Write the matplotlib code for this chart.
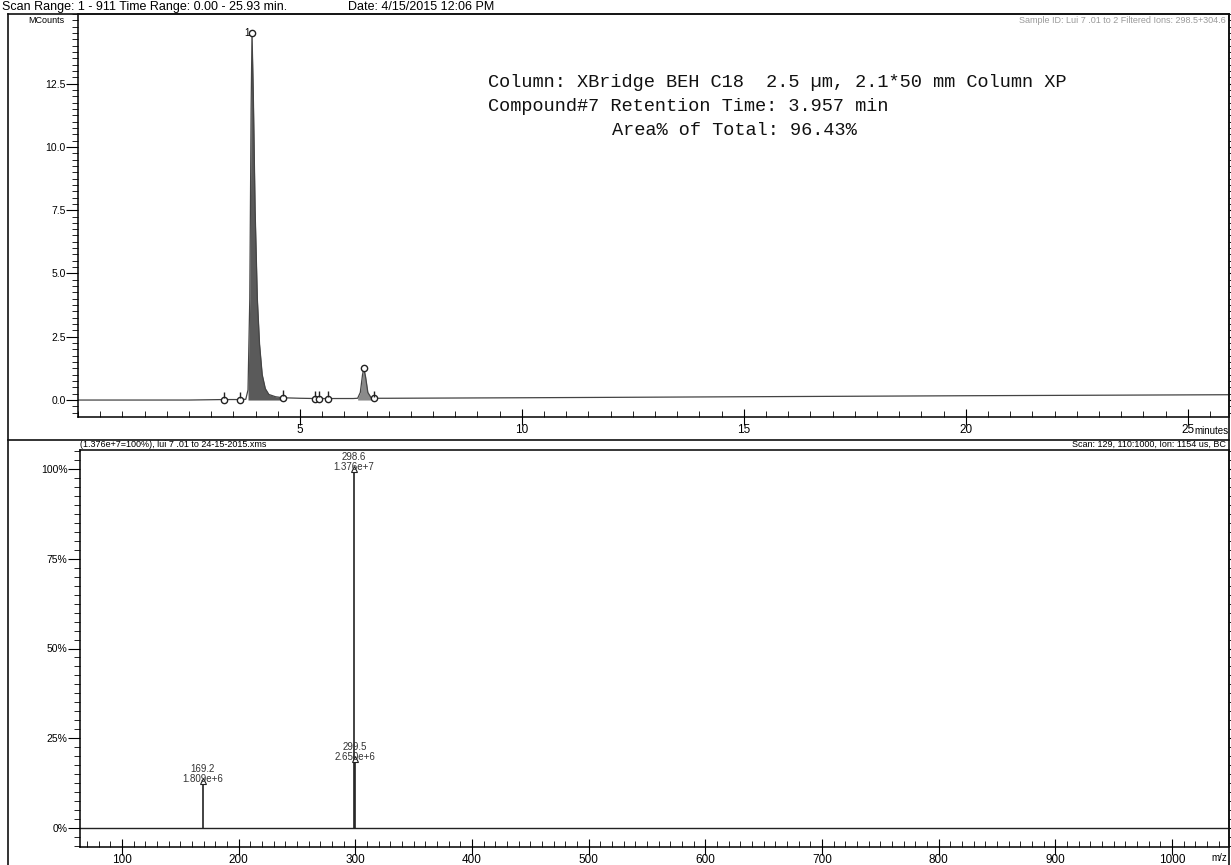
import numpy as np
import matplotlib.pyplot as plt
from matplotlib.ticker import MultipleLocator, FormatStrFormatter
from matplotlib.lines import Line2D

plt.rcParams['font.family'] = ['Liberation Sans', 'DejaVu Sans']

# chromatogram trace, minutes vs MCounts
trace_time = [0.0, 2.5, 3.29, 3.65, 3.78, 3.83, 3.87, 3.90, 3.92, 3.95, 3.99, 4.04,
              4.09, 4.15, 4.22, 4.30, 4.45, 4.62, 5.0, 5.34, 5.43, 5.63, 6.20,
              6.30, 6.36, 6.41, 6.44, 6.48, 6.53, 6.60, 6.67, 7.0, 10.0, 15.0,
              20.0, 25.93]
trace_counts = [0.0, 0.0, 0.02, 0.02, 0.03, 0.4, 4.0, 11.5, 14.5, 12.0, 7.5, 4.0,
                2.2, 1.0, 0.45, 0.22, 0.13, 0.09, 0.07, 0.06, 0.06, 0.06, 0.06,
                0.07, 0.3, 1.0, 1.26, 0.9, 0.3, 0.1, 0.07, 0.07, 0.09, 0.13,
                0.17, 0.21]

# integration markers
event_time = [3.29, 3.65, 4.62, 5.34, 5.43, 5.63, 6.67]
event_counts = [0.02, 0.02, 0.09, 0.06, 0.06, 0.06, 0.07]
apex_time = [3.92, 6.44]
apex_counts = [14.5, 1.26]
apex_labels = ['1', '']

# filled peak windows
main_window = (3.80, 4.62)
small_window = (6.30, 6.62)

# mass spectrum
mz = [169.2, 298.6, 299.5]
abund = [1.809e6, 1.376e7, 2.650e6]
mz_labels = ['169.2', '298.6', '299.5']
abund_labels = ['1.809e+6', '1.376e+7', '2.650e+6']
base_peak = 1.376e7

W, H = 1231, 865
fig = plt.figure(figsize=(W / 100, H / 100), dpi=100)

def fx(px):
    return px / W

def fy(py):
    return 1 - py / H

# ---------------- top panel: chromatogram ----------------
ax1 = fig.add_axes([fx(78), fy(417), fx(1229 - 78), (417 - 14) / H])
t = np.array(trace_time)
c = np.array(trace_counts)
ax1.plot(t, c, color='#444444', lw=0.9)
m = (t >= main_window[0]) & (t <= main_window[1])
ax1.fill_between(t[m], 0, c[m], color='#5a5a5a', lw=0)
m = (t >= small_window[0]) & (t <= small_window[1])
ax1.fill_between(t[m], 0, c[m], color='#8a8a8a', lw=0)

ax1.plot(event_time, event_counts, 'o', ms=4.5, mfc='white', mec='#222222', mew=1)
ax1.plot(event_time, [v + 0.18 for v in event_counts], '|', ms=5, color='#222222')
ax1.plot(apex_time, apex_counts, 'o', ms=4.5, mfc='white', mec='#222222', mew=1)
for tt, cc, lab in zip(apex_time, apex_counts, apex_labels):
    ax1.text(tt - 0.05, cc, lab, fontsize=7, ha='right', va='center')

ax1.set_xlim(0.0, 25.93)
ax1.set_ylim(-0.67, 15.25)
ax1.set_xticks([5, 10, 15, 20, 25])
ax1.set_yticks([0.0, 2.5, 5.0, 7.5, 10.0, 12.5])
ax1.xaxis.set_minor_locator(MultipleLocator(0.5))
ax1.yaxis.set_minor_locator(MultipleLocator(0.25))
ax1.yaxis.set_major_formatter(FormatStrFormatter('%.1f'))
ax1.xaxis.set_major_formatter(FormatStrFormatter('%d'))
ax1.tick_params(axis='x', which='major', direction='inout', length=12, pad=-1, labelsize=8.5)
ax1.tick_params(axis='x', which='minor', direction='in', length=4)
ax1.tick_params(axis='y', which='major', direction='out', length=9, pad=0, labelsize=7.5)
ax1.tick_params(axis='y', which='minor', direction='out', length=4)
ax1.tick_params(axis='y', which='both', right=True, labelright=False)
for s in ax1.spines.values():
    s.set_linewidth(1.1)
ax1.text(-0.012, 0.985, 'MCounts', transform=ax1.transAxes, fontsize=6.5, ha='right', va='center')
ax1.text(1.0, -0.035, 'minutes', transform=ax1.transAxes, fontsize=7, ha='right', va='center')
ax1.text(0.997, 0.985, 'Sample ID: Lui 7 .01 to 2 Filtered Ions: 298.5+304.6',
         transform=ax1.transAxes, fontsize=6.5, color='#9a9a9a', ha='right', va='center')

mono = dict(family='Liberation Mono', fontsize=13.45, color='#111111', va='center')
ax1.text(0.356, 0.83, 'Column: XBridge BEH C18  2.5 µm, 2.1*50 mm Column XP', transform=ax1.transAxes, **mono)
ax1.text(0.356, 0.77, 'Compound#7 Retention Time: 3.957 min', transform=ax1.transAxes, **mono)
ax1.text(0.464, 0.71, 'Area% of Total: 96.43%', transform=ax1.transAxes, **mono)

# ---------------- bottom panel: mass spectrum ----------------
ax2 = fig.add_axes([fx(80), fy(847), fx(1229 - 80), (847 - 450) / H])
pct = [a / base_peak * 100 for a in abund]
ax2.axhline(0, color='#222222', lw=1)
ax2.vlines(mz, 0, pct, color='#222222', lw=1.2)
ax2.plot(mz, pct, '^', ms=4, mfc='white', mec='#222222', mew=0.8)
for x, p, l1, l2 in zip(mz, pct, mz_labels, abund_labels):
    ax2.text(x, p - 0.8, l1 + '\n' + l2, fontsize=7, ha='center', va='bottom',
             linespacing=1.0, color='#333333')

ax2.set_xlim(64, 1049)
ax2.set_ylim(-5.3, 105.3)
ax2.xaxis.set_minor_locator(MultipleLocator(10))
ax2.yaxis.set_minor_locator(MultipleLocator(2.5))
ax2.yaxis.set_major_formatter(FormatStrFormatter('%d%%'))
ax2.xaxis.set_major_formatter(FormatStrFormatter('%d'))
ax2.set_yticks([0, 25, 50, 75, 100])
ax2.set_xticks([100, 200, 300, 400, 500, 600, 700, 800, 900, 1000])
ax2.tick_params(axis='x', which='major', direction='inout', length=12, pad=-1, labelsize=8.5)
ax2.tick_params(axis='x', which='minor', direction='in', length=4)
ax2.tick_params(axis='y', which='major', direction='out', length=9, pad=0, labelsize=7.5)
ax2.tick_params(axis='y', which='minor', direction='out', length=4)
ax2.tick_params(axis='y', which='both', right=True, labelright=False)
for s in ax2.spines.values():
    s.set_linewidth(1.1)
ax2.text(0.0, 1.003, '(1.376e+7=100%), lui 7 .01 to 24-15-2015.xms', transform=ax2.transAxes,
         fontsize=6.5, ha='left', va='bottom')
ax2.text(0.997, 1.003, 'Scan: 129, 110:1000, Ion: 1154 us, BC', transform=ax2.transAxes,
         fontsize=6.5, ha='right', va='bottom')
ax2.text(0.998, -0.027, 'm/z', transform=ax2.transAxes, fontsize=7, ha='right', va='center')

# page header and frame
fig.text(fx(2), fy(7), 'Scan Range: 1 - 911 Time Range: 0.00 - 25.93 min.', fontsize=9, va='center')
fig.text(fx(348), fy(7), 'Date: 4/15/2015 12:06 PM', fontsize=9, va='center')
for xs, ys in [((8, 1229), (14, 14)), ((8, 8), (14, 865)), ((8, 1229), (440, 440)),
               ((1229, 1229), (14, 865))]:
    fig.add_artist(Line2D([fx(xs[0]), fx(xs[1])], [fy(ys[0]), fy(ys[1])],
                          transform=fig.transFigure, color='#111111', lw=1.2))

fig.savefig('out.png', dpi=100)
